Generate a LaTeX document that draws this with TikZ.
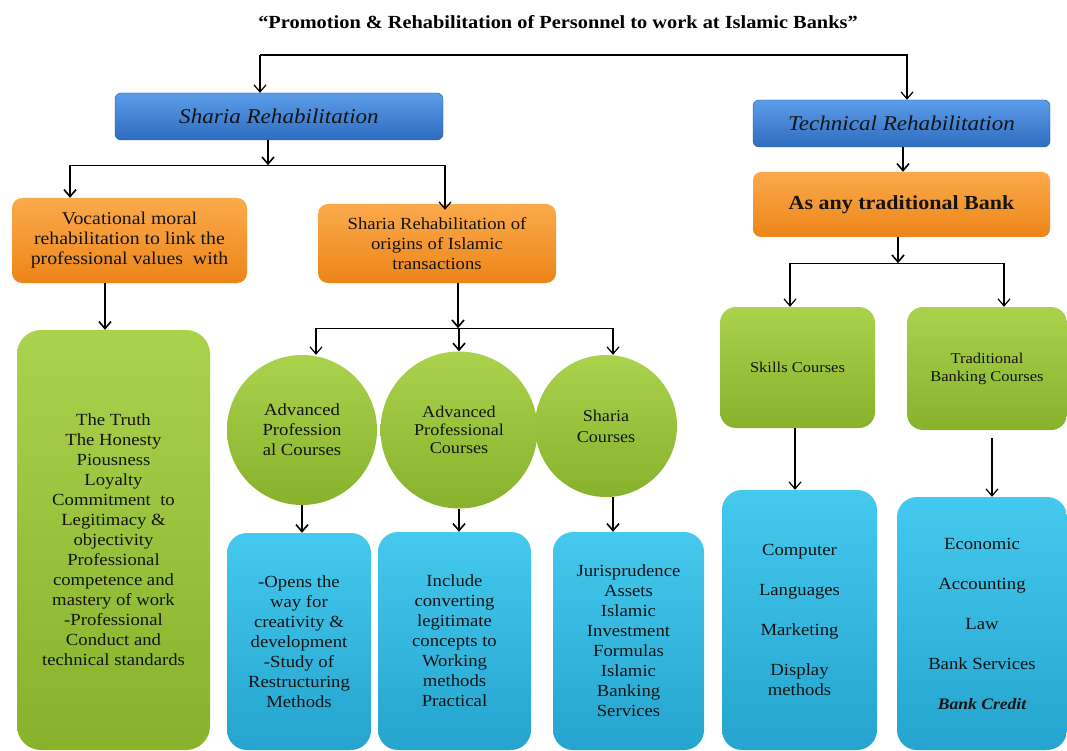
\documentclass[tikz,border=0pt]{standalone}
\usepackage{fontspec}
\setmainfont[FakeStretch=1.1]{Liberation Serif}
\usetikzlibrary{arrows.meta,shapes.geometric}
\definecolor{hdrtop}{HTML}{5C9DE8}
\definecolor{hdrbot}{HTML}{2E6CC0}
\definecolor{orgtop}{HTML}{FBAA4C}
\definecolor{orgbot}{HTML}{EC8518}
\definecolor{grntop}{HTML}{AAD24C}
\definecolor{grnbot}{HTML}{88B22C}
\definecolor{cyntop}{HTML}{45C9EE}
\definecolor{cynbot}{HTML}{24A4CE}
\definecolor{ink}{HTML}{141414}
\begin{document}
\begin{tikzpicture}[x=1pt,y=-1pt,
    hdrbox/.style={rectangle,rounded corners=6pt,top color=hdrtop,bottom color=hdrbot,
        draw=hdrbot!80!black,line width=0.4pt,text=ink,font=\fontsize{21}{24}\selectfont\itshape},
    orgbox/.style={rectangle,rounded corners=10pt,top color=orgtop,bottom color=orgbot,
        text=ink,align=center,font=\fontsize{17}{20}\selectfont},
    grnbox/.style={rectangle,rounded corners=24pt,top color=grntop,bottom color=grnbot,
        text=ink,align=center,font=\fontsize{17}{20}\selectfont},
    grncirc/.style={circle,inner sep=0pt,top color=grntop,bottom color=grnbot,
        text=ink,align=center,font=\fontsize{17}{20}\selectfont},
    cynbox/.style={rectangle,rounded corners=20pt,top color=cyntop,bottom color=cynbot,
        text=ink,align=center,font=\fontsize{17}{20}\selectfont},
    arr/.style={line width=1.6pt,-{Straight Barb[length=7pt,width=12pt]}},
    thin arr/.style={line width=1.2pt,-{Straight Barb[length=7pt,width=12pt]}}]
    \useasboundingbox (0,0) rectangle (1067,751);
    \fill[white] (0,0) rectangle (1067,751);
    % title
    \node (title) at (558,22) [font=\fontsize{18.5}{22}\selectfont\bfseries]
        {``Promotion \& Rehabilitation of Personnel to work at Islamic Banks''};
    % level 1
    \node (sharia) at (279,116.5) [hdrbox,minimum width=328pt,minimum height=47pt] {Sharia Rehabilitation};
    \node (tech) at (901.5,123.5) [hdrbox,minimum width=297pt,minimum height=47pt] {Technical Rehabilitation};
    % level 2
    \node (voc) at (129.5,240.5) [orgbox,minimum width=235pt,minimum height=85pt,
        font=\fontsize{18}{20}\selectfont]
        {Vocational moral\\rehabilitation to link the\\professional values\ \ with};
    \node (origin) at (437,243.5) [orgbox,minimum width=238pt,minimum height=79pt]
        {Sharia Rehabilitation of\\origins of Islamic\\transactions};
    \node (bank) at (901.5,204.5) [orgbox,rounded corners=8pt,minimum width=297pt,minimum height=65pt,
        font=\fontsize{20}{24}\selectfont\bfseries] {As any traditional Bank};
    % level 3
    \node (truth) at (113.5,540) [grnbox,minimum width=193pt,minimum height=420pt]
        {The Truth\\The Honesty\\Piousness\\Loyalty\\Commitment\ \ to\\Legitimacy \&\\objectivity\\
         Professional\\competence and\\mastery of work\\-Professional\\Conduct and\\technical standards};
    \node (circA) at (302,430) [grncirc,minimum size=150pt] {Advanced\\Profession\\al Courses};
    \node (circB) at (459,430) [grncirc,minimum size=157pt,font=\fontsize{16.5}{18}\selectfont]
        {Advanced\\Professional\\Courses};
    \node (circC) at (606,426) [grncirc,minimum size=142pt,font=\fontsize{16.5}{21}\selectfont]
        {Sharia\\Courses};
    \node (skills) at (797.5,367.5) [grnbox,rounded corners=16pt,minimum width=155pt,minimum height=121pt,
        font=\fontsize{15}{18}\selectfont] {Skills Courses};
    \node (trad) at (987,368.5) [grnbox,rounded corners=16pt,minimum width=160pt,minimum height=123pt,
        font=\fontsize{15}{18}\selectfont] {Traditional\\Banking Courses};
    % level 4
    \node (opens) at (299,641.5) [cynbox,minimum width=144pt,minimum height=217pt]
        {-Opens the\\way for\\creativity \&\\development\\-Study of\\Restructuring\\Methods};
    \node (incl) at (454.5,641) [cynbox,minimum width=153pt,minimum height=218pt]
        {Include\\converting\\legitimate\\concepts to\\Working\\methods\\Practical};
    \node (juris) at (628.5,641) [cynbox,minimum width=151pt,minimum height=218pt]
        {Jurisprudence\\Assets\\Islamic\\Investment\\Formulas\\Islamic\\Banking\\Services};
    \node (comp) at (799.5,620) [cynbox,minimum width=155pt,minimum height=260pt]
        {Computer\\[20pt]Languages\\[20pt]Marketing\\[20pt]Display\\methods};
    \node (econ) at (982,623.5) [cynbox,minimum width=170pt,minimum height=253pt]
        {Economic\\[20pt]Accounting\\[20pt]Law\\[20pt]Bank Services\\[20pt]
         {\fontsize{16}{18}\selectfont\bfseries\itshape Bank Credit}};
    % connectors
    \coordinate (top) at (260,55);
    \draw[thin arr] (top) -- ([xshift=-19pt]sharia.north);
    \draw[thin arr] (top) -| ([xshift=5.5pt]tech.north);
    \draw[arr] ([xshift=-11pt]sharia.south) -- ++(0,25) coordinate (sj);
    \draw[arr] ([xshift=-59.5pt]voc.north |- sj) -- ([xshift=-59.5pt]voc.north);
    \draw[thin arr] ([xshift=-59.5pt]voc.north |- sj) -- ([xshift=8pt]origin.north |- sj)
        -- ([xshift=8pt,yshift=-6pt]origin.north);
    \draw[arr] ([xshift=-8.5pt]truth.north |- voc.south) -- ([xshift=-8.5pt]truth.north);
    \draw[arr] ([xshift=21pt]origin.south) -- ++(0,45) coordinate (oj);
    \draw[thin arr] ([xshift=14pt]circA.north |- oj) -- ([xshift=14pt]circA.north);
    \draw[thin arr] ([xshift=14pt]circA.north |- oj) -- ([xshift=7pt]circC.north |- oj)
        -- ([xshift=7pt]circC.north);
    \draw[arr] (circB.north |- oj) -- (circB.north);
    \draw[arr] (circA.south) -- (circA.south |- opens.north);
    \draw[arr] (circB.south) -- (circB.south |- incl.north);
    \draw[arr] ([xshift=7pt]circC.south) -- ([xshift=7pt]circC.south |- juris.north);
    \draw[arr] ([xshift=1.5pt]tech.south) -- ([xshift=1.5pt]tech.south |- bank.north);
    \draw[arr] ([xshift=-3.5pt]bank.south) -- ++(0,26) coordinate (bj);
    \draw[thin arr] ([xshift=-7.5pt]skills.north |- bj) -- ([xshift=-7.5pt]skills.north);
    \draw[thin arr] ([xshift=-7.5pt]skills.north |- bj) -- ([xshift=17pt]trad.north |- bj)
        -- ([xshift=17pt]trad.north);
    \draw[thin arr] ([xshift=-2.5pt]skills.south) -- ([xshift=-2.5pt]skills.south |- comp.north);
    \draw[thin arr] ([xshift=5pt,yshift=-8pt]trad.south) -- ([xshift=5pt]trad.south |- econ.north);
\end{tikzpicture}
\end{document}
